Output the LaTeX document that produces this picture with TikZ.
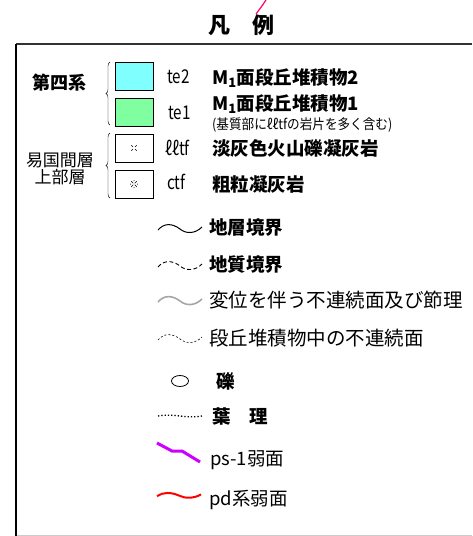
\documentclass[tikz,border=0pt]{standalone}
\usepackage{fontspec}
\setmainfont{Noto Sans CJK JP}
\newfontfamily\narrowfont[FakeStretch=0.8]{Noto Sans CJK JP}
\newfontfamily\smallfont[FakeStretch=0.9]{Noto Sans CJK JP}
\usetikzlibrary{decorations.pathreplacing}
\definecolor{tetwo}{RGB}{128,255,255}
\definecolor{teone}{RGB}{128,255,160}
\definecolor{psone}{RGB}{204,0,255}
\newcommand{\lsize}{\fontsize{18.5}{20}\selectfont}

\begin{document}
\begin{tikzpicture}[x=1pt, y=-1pt,
    unit/.style={draw, minimum width=38pt, minimum height=28pt, inner sep=0pt},
    code/.style={anchor=west, inner sep=0pt, font=\narrowfont\fontsize{19}{20}\selectfont},
    lbl/.style={anchor=west, inner sep=0pt, font=\lsize},
    grp/.style={inner sep=0pt, font=\fontsize{17}{18}\selectfont},
    wave/.pic={\draw[pic actions] (-22,2) .. controls (-16,-5) and (-8,-5) .. (0,1) .. controls (6,6) and (15,6) .. (22,-1);}]

  \useasboundingbox (0,0) rectangle (472,536);

  % title and frame
  \draw[red!60!magenta, line width=1.2pt] (266,0) .. controls (262,6) .. (256,14);
  \node[inner sep=0pt, font=\bfseries\fontsize{22}{22}\selectfont] (title) at (241,25) {凡　例};
  \draw[black!80, line width=1.5pt] (472,44) -- (16,44);
  \draw[line width=2pt] (16,44) -- (16,536);
  \draw[gray!40, line width=1pt] (17,535) -- (472,535);

  % units
  \node [unit, fill=tetwo] (te2) at (134,76) {};
  \node [unit, fill=teone] (te1) at (134,112) {};
  \node [unit] (llctf) at (134,148) {};
  \node [unit] (ctf) at (134,184) {};
  \foreach \a in {45,135,225,315}
    \draw[line width=0.4pt] ([shift={(\a:1.5pt)}]llctf.center) -- ([shift={(\a:3.8pt)}]llctf.center);
  \foreach \a in {45,135,225,315} {
    \draw[line width=0.4pt] ([shift={(\a:1pt)}]ctf.center) -- ([shift={(\a:4pt)}]ctf.center);
    \fill ([shift={(\a+45:3.5pt)}]ctf.center) circle (0.5pt);
  }

  \draw[decorate, decoration={brace, amplitude=4pt}] (110,125) -- (110,62);
  \draw[decorate, decoration={brace, amplitude=4pt}] (110,198) -- (110,133);
  \node[grp, font=\bfseries\fontsize{18}{18}\selectfont] (q) at (59,83) {第四系};
  \node[grp] (ok1) at (60,160) {易国間層};
  \node[grp] (ok2) at (60,177) {上部層};

  \node [code] (c1) at (167,77) {te2};
  \node [code] (c2) at (168,113) {te1};
  \node [code] (c3) at (165,148) {ℓℓtf};
  \node [code] (c4) at (167,182) {ctf};

  \node [lbl, font=\bfseries\lsize] (d1) at (212,78) {M\textsubscript{1}面段丘堆積物2};
  \node [lbl, font=\bfseries\lsize] (d2) at (212,104) {M\textsubscript{1}面段丘堆積物1};
  \node [lbl, font=\smallfont\fontsize{14}{14}\selectfont] (d2b) at (212,125) {(基質部にℓℓtfの岩片を多く含む)};
  \node [lbl, font=\bfseries\lsize] (d3) at (212,148) {淡灰色火山礫凝灰岩};
  \node [lbl, font=\bfseries\lsize] (d4) at (212,184) {粗粒凝灰岩};

  % boundary symbols
  \pic [line width=1pt] at (180,228) {wave};
  \pic [line width=0.9pt, dash pattern=on 4pt off 2.5pt] at (180,265) {wave};
  \pic [gray!70, line width=1.6pt] at (180,300) {wave};
  \pic [line width=0.6pt, dash pattern=on 2pt off 2pt] at (180,338) {wave};
  \draw[line width=0.8pt] (180,381) ellipse [x radius=8.5, y radius=5.5];
  \draw[line width=1.3pt, dotted] (158,416) .. controls (172,413) and (188,419) .. (202,416);
  \draw[psone, line width=3pt] (157,443) -- (172,451) -- (182,451) -- (200,462);
  \pic [red, line width=2pt, yscale=0.6] at (179,495) {wave};

  \node [lbl, font=\bfseries\lsize] (b1) at (209,228) {地層境界};
  \node [lbl, font=\bfseries\lsize] (b2) at (209,265) {地質境界};
  \node [lbl, font=\fontsize{19.5}{20}\selectfont] (b3) at (209,300) {変位を伴う不連続面及び節理};
  \node [lbl, font=\fontsize{19.5}{20}\selectfont] (b4) at (209,338) {段丘堆積物中の不連続面};
  \node [lbl, font=\bfseries\lsize] (b5) at (216,381) {礫};
  \node [lbl, font=\bfseries\lsize] (b6) at (212,416) {葉　理};
  \node [lbl] (b7) at (210,460) {ps-1弱面};
  \node [lbl] (b8) at (209,500) {pd系弱面};
\end{tikzpicture}
\end{document}
